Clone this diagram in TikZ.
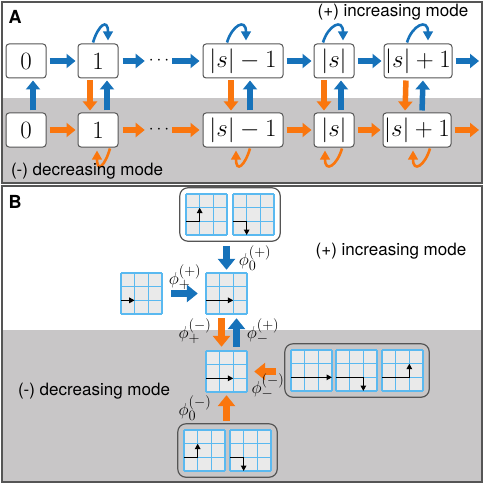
\documentclass[tikz,border=0pt]{standalone}
\usepackage{fontspec}
\setmainfont{Liberation Serif}
\setsansfont{TeX Gyre Heros}
\usetikzlibrary{arrows.meta,fit,calc}
\definecolor{myblue}{RGB}{22,114,186}
\definecolor{myorange}{RGB}{250,118,14}
\definecolor{bggray}{RGB}{200,198,199}
\definecolor{gfill}{RGB}{234,234,234}
\definecolor{gline}{RGB}{90,185,240}
\definecolor{framec}{RGB}{85,85,85}
\newcommand\mygrid[4]{%
  \begin{scope}[shift={(#2,#3)}, x=13.667pt, y=13.667pt]
    \fill[gfill] (0,0) rectangle (3,3);
    \draw[gline, line width=1.2pt] (0,0) grid[step=1] (3,3);
    \node[minimum size=41pt, inner sep=0pt] (#1) at (1.5,1.5) {};
    \draw[garrow] #4;
  \end{scope}}
\begin{document}
\begin{tikzpicture}[x=1pt,y=-1pt,
  st/.style={draw=framec, fill=white, rounded corners=3pt, line width=1pt,
    minimum height=34pt, inner sep=0pt, font=\fontsize{24}{24}\selectfont},
  ar/.style={line width=5.5pt, -{Triangle[length=9pt,width=14pt]}},
  br/.style={line width=6.5pt, -{Triangle[length=11pt,width=17pt]}},
  lp/.style={line width=2.6pt, -{Triangle[length=9pt,width=9.5pt]}},
  lab/.style={font=\sffamily\fontsize{17}{17}\selectfont, inner sep=0pt},
  plab/.style={font=\sffamily\bfseries\fontsize{18}{18}\selectfont, inner sep=0pt},
  phl/.style={font=\fontsize{19}{19}\selectfont, inner sep=0pt},
  garrow/.style={line width=1.3pt, black, -{Triangle[length=5.5pt,width=5.5pt]}},
  grp/.style={draw=framec, line width=1.2pt, rounded corners=8pt, inner sep=6pt},
]
\useasboundingbox (0,0) rectangle (484,484);
% panel frames
\fill[bggray] (2,98) rectangle (482,183);
\draw[framec, line width=1.5pt] (2,2) rectangle (482,183);
\fill[bggray] (2,330) rectangle (482,482);
\draw[framec, line width=1.5pt] (2,186) rectangle (482,482);
\node[plab] (la) at (15,17) {A};
\node[plab] (lb) at (15,202) {B};
% ---------- panel A
\node[st, minimum width=40pt] (t0) at (26,61) {$0$};
\node[st, minimum width=40pt] (t1) at (98,61) {$1$};
\node[inner sep=0pt, font=\fontsize{18}{18}\selectfont] (td) at (159,61) {$\cdots$};
\node[st, minimum width=80pt] (t2) at (243,61) {$|s|-1$};
\node[st, minimum width=40pt] (t3) at (334,61) {$|s|$};
\node[st, minimum width=68pt] (t4) at (418,61) {$|s|+1$};
\coordinate (te) at (479,61);
\node[st, minimum width=40pt] (b0) at (26,130) {$0$};
\node[st, minimum width=40pt] (b1) at (98,130) {$1$};
\node[inner sep=0pt, font=\fontsize{18}{18}\selectfont] (bd) at (159,130) {$\cdots$};
\node[st, minimum width=80pt] (b2) at (243,130) {$|s|-1$};
\node[st, minimum width=40pt] (b3) at (334,130) {$|s|$};
\node[st, minimum width=68pt] (b4) at (417,130) {$|s|+1$};
\coordinate (be) at (479,130);
% horizontal arrows
\foreach \r/\c in {t/myblue, b/myorange}{
  \draw[ar, \c, shorten <=3pt, shorten >=2pt] (\r0) -- (\r1);
  \draw[ar, \c, shorten <=4pt, shorten >=4pt] (\r1) -- (\r d);
  \draw[ar, \c, shorten <=3pt, shorten >=3pt] (\r d) -- (\r2);
  \draw[ar, \c, shorten <=3pt, shorten >=2pt] (\r2) -- (\r3);
  \draw[ar, \c, shorten <=3pt, shorten >=2pt] (\r3) -- (\r4);
  \draw[ar, \c, shorten <=3pt] (\r4) -- (\r e);
}
% vertical arrows
\draw[ar, myblue, shorten <=2pt, shorten >=2pt] ([xshift=7pt]b0.north) -- ([xshift=7pt]t0.south);
\foreach \n/\o/\p in {1/-8/9, 2/-12/7, 3/-10/7, 4/-12/5}{
  \draw[ar, myorange, shorten <=2pt, shorten >=2pt] ([xshift=\o pt]t\n.south) -- ([xshift=\o pt]b\n.north);
  \draw[ar, myblue, shorten <=2pt, shorten >=2pt] ([xshift=\p pt]b\n.north) -- ([xshift=\p pt]t\n.south);
}
% self loops
\foreach \n/\a/\b in {1/-5/10, 2/-16/3, 3/-11/9, 4/-11/10}{
  \draw[lp, myblue] ([xshift=\a pt, yshift=1pt]t\n.north) .. controls +(5,-17) and +(0,-23) .. ([xshift=\b pt, yshift=3pt]t\n.north);
}
\foreach \n/\a/\b in {1/12/-1, 2/7/-7, 3/8/-9, 4/13/-4}{
  \draw[lp, myorange] ([xshift=\a pt, yshift=-1pt]b\n.south) .. controls +(-5,17) and +(0,23) .. ([xshift=\b pt, yshift=-3pt]b\n.south);
}
\node[lab] (tp) at (393,12) {(+) increasing mode};
\node[lab] (tm) at (87,171) {(-) decreasing mode};
% ---------- panel B
\mygrid{g1}{186}{235}{(0,1) -- (1,1) -- (1,2)}
\mygrid{g2}{233}{235}{(0,1) -- (1,1) -- (1,0)}
\mygrid{gl}{121}{314}{(0,1) -- (1,1)}
\mygrid{c1}{206}{314}{(0,1) -- (2,1)}
\mygrid{c2}{206}{392}{(0,1) -- (2,1)}
\mygrid{r1}{291}{391}{(0,1) -- (3,1)}
\mygrid{r2}{336}{391}{(0,1) -- (2,1) -- (2,0)}
\mygrid{r3}{382}{391}{(0,1) -- (2,1) -- (2,2)}
\mygrid{d1}{184}{471}{(0,1) -- (1,1) -- (1,2)}
\mygrid{d2}{230}{471}{(0,1) -- (1,1) -- (1,0)}
\node[grp, fit=(g1)(g2)] (tg) {};
\node[grp, fit=(r1)(r3)] (rg) {};
\node[grp, fit=(d1)(d2)] (dg) {};
\draw[br, myblue, shorten <=4pt, shorten >=3pt] (tg.south -| c1) -- (c1.north);
\draw[br, myblue, shorten <=9pt, shorten >=8pt] (gl) -- (c1);
\draw[br, myorange, shorten <=4pt, shorten >=4pt] ([xshift=-5pt]c1.south) -- ([xshift=-5pt]c2.north);
\draw[br, myblue, shorten <=4pt, shorten >=4pt] ([xshift=10pt]c2.north) -- ([xshift=10pt]c1.south);
\draw[br, myorange, shorten <=8pt, shorten >=7pt] (rg.west |- c2) -- (c2.east);
\draw[br, myorange, shorten <=2pt, shorten >=3pt] (dg.north -| c2) -- (c2.south);
\node[phl] (p0p) at (255,258) {$\phi_0^{(+)}$};
\node[phl] (ppp) at (185,277) {$\phi_+^{(+)}$};
\node[phl] (ppm) at (195,331) {$\phi_+^{(-)}$};
\node[phl] (pmp) at (263,331) {$\phi_-^{(+)}$};
\node[phl] (pmm) at (268,386) {$\phi_-^{(-)}$};
\node[phl] (p0m) at (195,408) {$\phi_0^{(-)}$};
\node[lab] (bp) at (391,251) {(+) increasing mode};
\node[lab] (bm) at (94,391) {(-) decreasing mode};
\end{tikzpicture}
\end{document}
